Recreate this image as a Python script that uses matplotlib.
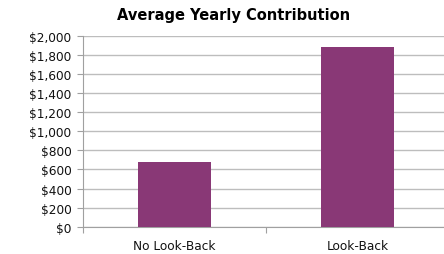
import matplotlib
matplotlib.use("Agg")
import matplotlib.pyplot as plt
from matplotlib.ticker import FuncFormatter

categories = ["No Look-Back", "Look-Back"]
values = [677, 1878]
yticks = [0, 200, 400, 600, 800, 1000, 1200, 1400, 1600, 1800, 2000]

fig = plt.figure(figsize=(4.44, 2.55), dpi=100)
ax = fig.add_axes([0.186, 0.107, 0.826, 0.749])

ax.bar(range(len(categories)), values, width=0.4, color="#893876", zorder=3)

ax.set_xlim(-0.5, 1.5)
ax.set_ylim(0, 2000)
ax.set_yticks(yticks)
ax.yaxis.set_major_formatter(FuncFormatter(lambda v, p: "${:,.0f}".format(v)))
ax.set_xticks([-0.5, 0.5, 1.5])
ax.set_xticklabels([])
ax.set_xticks(range(len(categories)), minor=True)
ax.set_xticklabels(categories, minor=True)
ax.tick_params(axis="x", which="minor", length=0, pad=9, labelsize=8.7, colors="#111111")
ax.tick_params(axis="x", which="major", length=4, color="#a0a0a0")
ax.tick_params(axis="y", length=4, color="#a0a0a0", labelsize=8.7, labelcolor="#111111", pad=4)

ax.grid(axis="y", color="#bdbdbd", linewidth=1, zorder=0)
for s in ["top", "right"]:
    ax.spines[s].set_visible(False)
for s in ["left", "bottom"]:
    ax.spines[s].set_color("#a0a0a0")

fig.text(0.527, 0.94, "Average Yearly Contribution", ha="center", va="center",
         fontsize=10.5, fontweight="bold", color="#000000")

fig.savefig("out.png", dpi=100)
